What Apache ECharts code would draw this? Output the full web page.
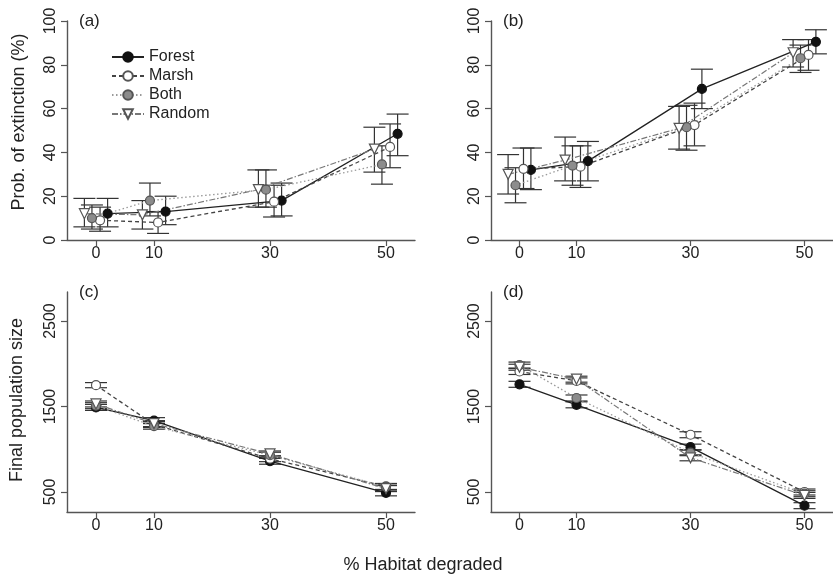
<!DOCTYPE html>
<html>
<head>
<meta charset="utf-8">
<script src="https://cdn.jsdelivr.net/npm/echarts@6/dist/echarts.min.js"></script>
<style>
html,body{margin:0;padding:0;background:#fff;}
#c{width:833px;height:577px;}
</style>
</head>
<body>
<div id="c"></div>
<script>
// ---- data: [mean, lower, upper] at each % habitat degraded ----
const degraded = [0, 10, 30, 50];
const xTicks = [0, 10, 30, 50];
const extTicks = [0, 20, 40, 60, 80, 100];
const popTicks = [500, 1500, 2500];
const seriesNames = ['Forest', 'Marsh', 'Both', 'Random'];

// (a) probability of extinction (%)
const aForest = [[12, 6, 19], [13, 7, 20], [18, 11, 26], [48.5, 38.5, 57.5]];
const aMarsh  = [[9, 4, 15], [8, 3, 13], [17.5, 10.5, 25], [42.5, 33, 53]];
const aBoth   = [[10, 5, 16], [18, 11, 26], [23, 15, 32], [34.5, 25.5, 43]];
const aRandom = [[12, 6, 19], [11.5, 5, 18], [23, 15, 32], [41.5, 31, 51.5]];
// (b) probability of extinction (%)
const bForest = [[32, 23, 42], [36, 27, 45], [69, 60, 78], [90.5, 85, 96]];
const bMarsh  = [[32.5, 23.5, 42], [33.5, 24, 43], [52.5, 43, 62.5], [84.5, 77.5, 91.5]];
const bBoth   = [[25, 17, 33], [34, 25, 43], [51.5, 41, 61.5], [83, 76.5, 89]];
const bRandom = [[30, 21, 39], [36.5, 27, 47], [51, 41.5, 61], [85.5, 79, 91.5]];
// (c) final population size
const cForest = [[1490, 1455, 1525], [1335, 1300, 1370], [860, 825, 895], [490, 455, 525]];
const cMarsh  = [[1750, 1720, 1780], [1290, 1255, 1325], [890, 855, 925], [565, 530, 600]];
const cBoth   = [[1510, 1475, 1545], [1270, 1235, 1305], [930, 895, 965], [560, 525, 595]];
const cRandom = [[1530, 1495, 1565], [1300, 1265, 1335], [945, 910, 980], [540, 505, 575]];
// (d) final population size
const dForest = [[1760, 1725, 1795], [1520, 1485, 1555], [1025, 990, 1060], [340, 305, 375]];
const dMarsh  = [[1910, 1875, 1945], [1800, 1765, 1835], [1170, 1135, 1205], [500, 465, 535]];
const dBoth   = [[1985, 1950, 2020], [1600, 1565, 1635], [960, 925, 995], [480, 445, 515]];
const dRandom = [[1960, 1925, 1995], [1820, 1785, 1855], [900, 865, 935], [460, 425, 495]];

const panelData = [
  {Forest: aForest, Marsh: aMarsh, Both: aBoth, Random: aRandom},
  {Forest: bForest, Marsh: bMarsh, Both: bBoth, Random: bRandom},
  {Forest: cForest, Marsh: cMarsh, Both: cBoth, Random: cRandom},
  {Forest: dForest, Marsh: dMarsh, Both: dBoth, Random: dRandom}
];
const panelLabels = ['(a)', '(b)', '(c)', '(d)'];

// ---- styling ----
const dodge = {Random: -2, Both: -0.7, Marsh: 0.7, Forest: 2};
const styles = {
  Forest: {symbol: 'circle', rotate: 0, fill: '#111', border: '#111', line: '#222', type: 'solid', width: 1.3},
  Marsh:  {symbol: 'circle', rotate: 0, fill: '#fff', border: '#555', line: '#444', type: [4, 3], width: 1.3},
  Both:   {symbol: 'circle', rotate: 0, fill: '#8c8c8c', border: '#555', line: '#9a9a9a', type: [1.5, 2.5], width: 1.3},
  Random: {symbol: 'triangle', rotate: 180, fill: '#fff', border: '#555', line: '#777', type: [6, 2, 1.5, 2], width: 1.2}
};
const grids = [
  {left: 67, top: 21, width: 348, height: 219},
  {left: 491, top: 21, width: 348, height: 219},
  {left: 67, top: 292, width: 348, height: 220},
  {left: 491, top: 292, width: 348, height: 220}
];
const axisColor = '#555';
const font = 'Liberation Sans, Arial, sans-serif';

const xAxes = grids.map((g, i) => ({
  type: 'value', gridIndex: i, min: -5, max: 55,
  splitLine: {show: false},
  axisLine: {show: true, onZero: false, lineStyle: {color: axisColor, width: 1.4}},
  axisTick: {show: true, length: 6, customValues: xTicks, lineStyle: {color: axisColor, width: 1.2}},
  axisLabel: {customValues: xTicks, fontSize: 16, color: '#222', fontFamily: font, margin: 6, formatter: v => String(v)}
}));
const yAxes = grids.map((g, i) => {
  const isExt = i < 2;
  return {
    type: 'value', gridIndex: i,
    min: isExt ? 0 : 266, max: isExt ? 100 : 2840,
    splitLine: {show: false},
    axisLine: {show: true, onZero: false, lineStyle: {color: axisColor, width: 1.4}},
    axisTick: {show: true, length: 6, customValues: isExt ? extTicks : popTicks, lineStyle: {color: axisColor, width: 1.2}},
    axisLabel: {customValues: isExt ? extTicks : popTicks, rotate: 90, fontSize: 16, color: '#222', fontFamily: font, margin: 8, formatter: v => String(v)}
  };
});

const series = [];
panelData.forEach((pd, gi) => {
  const useDodge = gi < 2;
  seriesNames.forEach(name => {
    const st = styles[name];
    const pts = pd[name].map((v, k) => [degraded[k] + (useDodge ? dodge[name] : 0), v[0], v[1], v[2]]);
    series.push({
      type: 'custom', xAxisIndex: gi, yAxisIndex: gi, z: 2, silent: true,
      data: pts.map(p => [p[0], p[2], p[3]]),
      encode: {x: 0, y: [1, 2]},
      renderItem: function (params, api) {
        const x = api.value(0), lo = api.value(1), hi = api.value(2);
        const a = api.coord([x, lo]), b = api.coord([x, hi]);
        const w = 11, s = {stroke: '#333', lineWidth: 1.2};
        return {type: 'group', children: [
          {type: 'line', shape: {x1: a[0], y1: a[1], x2: b[0], y2: b[1]}, style: s},
          {type: 'line', shape: {x1: a[0] - w, y1: a[1], x2: a[0] + w, y2: a[1]}, style: s},
          {type: 'line', shape: {x1: b[0] - w, y1: b[1], x2: b[0] + w, y2: b[1]}, style: s}
        ]};
      }
    });
    series.push({
      name: name, type: 'line', xAxisIndex: gi, yAxisIndex: gi, z: 3,
      data: pts.map(p => [p[0], p[1]]),
      symbol: st.symbol, symbolRotate: st.rotate, symbolSize: name === 'Random' ? 10 : 9,
      showSymbol: true,
      itemStyle: {color: st.fill, borderColor: st.border, borderWidth: 1.2},
      lineStyle: {color: st.line, type: st.type, width: st.width},
      emphasis: {disabled: true},
      animation: false
    });
  });
});

const graphics = panelLabels.map((t, i) => ({
  type: 'text', left: grids[i].left + 12, top: grids[i].top - 8,
  style: {text: t, fontSize: 17, fill: '#222', fontFamily: font}
}));
graphics.push(
  {type: 'text', x: 19, y: 122, rotation: Math.PI / 2, style: {text: 'Prob. of extinction (%)', fontSize: 18, fill: '#222', fontFamily: font, align: 'center', verticalAlign: 'middle'}},
  {type: 'text', x: 17, y: 400, rotation: Math.PI / 2, style: {text: 'Final population size', fontSize: 18, fill: '#222', fontFamily: font, align: 'center', verticalAlign: 'middle'}},
  {type: 'text', x: 423, y: 565, style: {text: '% Habitat degraded', fontSize: 18, fill: '#222', fontFamily: font, align: 'center', verticalAlign: 'middle'}}
);

const chart = echarts.init(document.getElementById('c'), null, {renderer: 'canvas'});
chart.setOption({
  animation: false,
  backgroundColor: '#fff',
  grid: grids,
  xAxis: xAxes,
  yAxis: yAxes,
  legend: {
    data: seriesNames, orient: 'vertical', left: 106, top: 44,
    itemWidth: 32, itemHeight: 12, itemGap: 3,
    textStyle: {fontSize: 16, color: '#222', fontFamily: font},
    selectedMode: false
  },
  graphic: graphics,
  series: series
});
</script>
</body>
</html>
